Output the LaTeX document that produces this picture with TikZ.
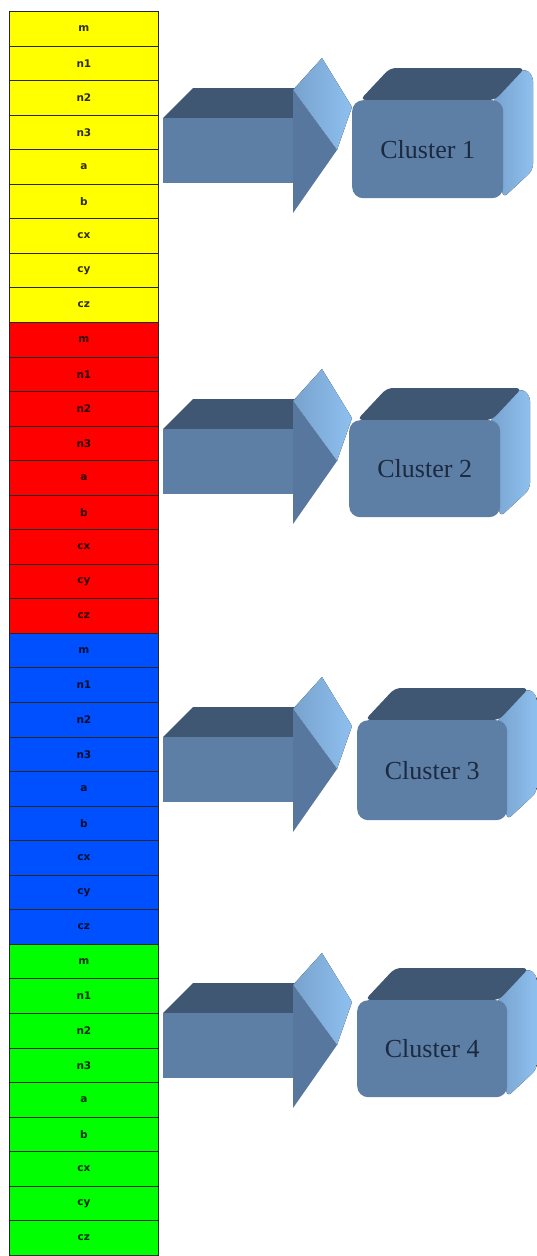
\documentclass[tikz,border=0pt]{standalone}
\usepackage{fontspec}
\setmainfont{Liberation Serif}
\newfontfamily\cellfont{DejaVu Sans}
\usetikzlibrary{calc}
\definecolor{cellyellow}{HTML}{FFFF00}
\definecolor{cellred}{HTML}{FF0000}
\definecolor{cellblue}{HTML}{0050FF}
\definecolor{cellgreen}{HTML}{00FF00}
\definecolor{frontbg}{HTML}{5D7EA5}
\definecolor{headbg}{HTML}{57779E}
\definecolor{topbg}{HTML}{3F5773}
\definecolor{sidebg}{HTML}{8EC0EF}
\definecolor{clustertext}{HTML}{1B2A40}

\begin{document}
\begin{tikzpicture}[x=1pt,y=-1pt,
cell/.style = {draw=black!85, line width=0.8pt, anchor=north west,
  minimum width=149pt, minimum height=34.55pt, inner sep=0pt,
  font=\cellfont\bfseries\fontsize{10.5}{12}\selectfont},
topface/.style = {fill=topbg},
sideface/.style = {left color=sidebg!55!frontbg, right color=sidebg},
front/.style = {fill=frontbg},
clusterbox/.style = {front, rounded corners=11pt, anchor=north west,
  inner sep=0pt, text=clustertext, font=\fontsize{26}{30}\selectfont}
]
\useasboundingbox (0,0) rectangle (537,1256);

% the column of cells
\foreach \col [count=\g from 0] in {cellyellow,cellred,cellblue,cellgreen} {
  \foreach \lbl [count=\i from 0] in {m,n1,n2,n3,a,b,cx,cy,cz} {
    \pgfmathsetmacro{\celly}{11+(9*\g+\i)*34.55}
    \node [cell, fill=\col, text=black!82!\col] (c\g-\i) at (9,\celly) {\lbl};
  }
}

% arrows and cluster boxes
\foreach \ay/\bx/\by/\bw/\bh/\cnum in {150/352/100/151/98/1, 461/349/420/151/97/2,
    769/357/720/150/100/3, 1045/357/1000/150/97/4} {
  \coordinate (a\cnum) at (163,\ay);
  % arrow
  \fill [topface] ($(a\cnum)+(0,-32)$) -- ++(30,-30) -- ++(104,0) -- ++(0,30) -- cycle;
  \fill [sideface] ($(a\cnum)+(130,-60)$) -- ++(29,-32)
    -- ($(a\cnum)+(189,-43)$) -- ($(a\cnum)+(174,0)$) -- cycle;
  \fill [front] ($(a\cnum)+(0,-32)$) rectangle ($(a\cnum)+(131,33)$);
  \fill [headbg] ($(a\cnum)+(130,-60)$) -- ($(a\cnum)+(174,0)$)
    -- ($(a\cnum)+(130,63)$) -- cycle;
  % box
  \fill [sideface, rounded corners=6pt] (\bx+\bw-10,\by) -- (\bx+\bw+20,\by-32)
    -- (\bx+\bw+30,\by-25) -- (\bx+\bw+30,\by+\bh-28) -- (\bx+\bw,\by+\bh) -- cycle;
  \fill [topface, rounded corners=6pt] (\bx+8,\by) -- (\bx+38,\by-32)
    -- (\bx+\bw+22,\by-32) -- (\bx+\bw-8,\by) -- cycle;
  \node [clusterbox, minimum width=\bw pt, minimum height=\bh pt] (cl\cnum)
    at (\bx,\by) {Cluster \cnum};
}

\end{tikzpicture}
\end{document}
